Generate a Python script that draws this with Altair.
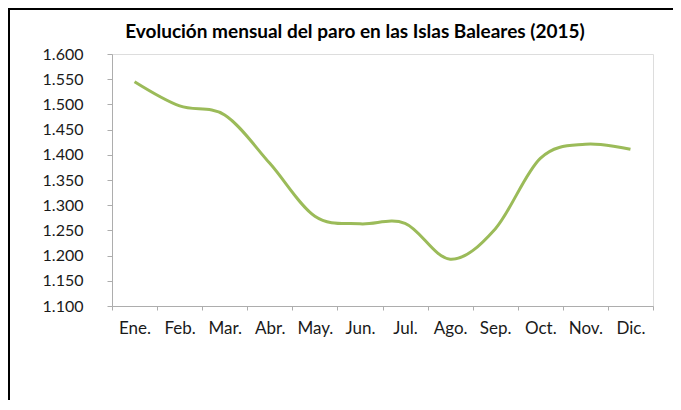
import altair as alt
import pandas as pd

months = ["Ene.", "Feb.", "Mar.", "Abr.", "May.", "Jun.", "Jul.", "Ago.", "Sep.", "Oct.", "Nov.", "Dic."]
paro = [1.545, 1.497, 1.479, 1.383, 1.278, 1.263, 1.264, 1.193, 1.253, 1.393, 1.421, 1.411]
y_ticks = [1.100, 1.150, 1.200, 1.250, 1.300, 1.350, 1.400, 1.450, 1.500, 1.550, 1.600]
title_text = "Evolución mensual del paro en las Islas Baleares (2015)"

df = pd.DataFrame({"mes": months, "paro": paro})
title_df = pd.DataFrame({"t": [title_text]})

W, H = 541, 252
PL, PT, PR, PB = 104, 46, 20, 94

line = alt.Chart(df).mark_line(
    color="#9BBB59", strokeWidth=3, interpolate="cardinal"
).encode(
    x=alt.X(
        "mes:N", sort=months, bandPosition=0.5,
        scale=alt.Scale(type="band", paddingInner=0, paddingOuter=0),
        axis=alt.Axis(
            title=None, labelAngle=0, tickBand="extent", grid=False,
            domainColor="#ADADAD", tickColor="#ADADAD", tickSize=4,
            labelFont="Lato", labelFontSize=17, labelColor="#1a1a1a",
            labelPadding=10,
        ),
    ),
    y=alt.Y(
        "paro:Q",
        scale=alt.Scale(domain=[1.1, 1.6], nice=False, zero=False),
        axis=alt.Axis(
            title=None, values=y_ticks, format=".3f", grid=False,
            domainColor="#ADADAD", tickColor="#ADADAD", tickSize=5,
            labelFont="Lato", labelFontSize=16, labelColor="#1a1a1a",
            labelPadding=24,
        ),
    ),
)

title = alt.Chart(title_df).mark_text(
    font="Lato", fontSize=19, fontWeight="bold", color="black",
    align="center", baseline="alphabetic",
).encode(text="t:N", x=alt.value(243), y=alt.value(-16))

frame_top = alt.Chart(df).mark_rule(color="black", strokeWidth=2).encode(
    x=alt.value(-PL), x2=alt.value(W + PR), y=alt.value(-PT + 1)
)
frame_left = alt.Chart(df).mark_rule(color="black", strokeWidth=2).encode(
    x=alt.value(-PL + 1), y=alt.value(-PT), y2=alt.value(H + PB)
)

chart = alt.layer(frame_top, frame_left, title, line).properties(
    width=W, height=H,
    autosize=alt.AutoSizeParams(type="none"),
    padding={"left": PL, "top": PT, "right": PR, "bottom": PB},
).configure_view(stroke=None).configure(background="white")

chart.save("out.html", embed_options={"renderer": "svg", "actions": False})
